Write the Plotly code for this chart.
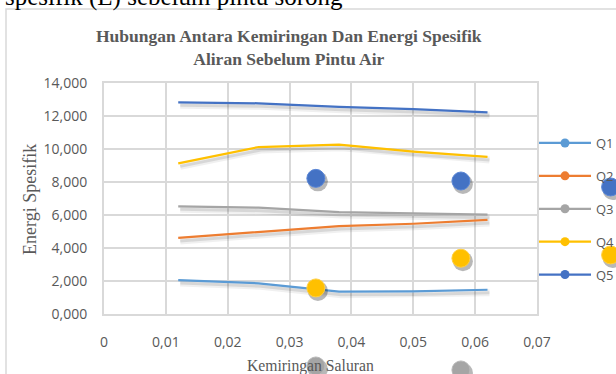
import plotly.graph_objects as go

# ---- data ----
kemiringan = [0.012, 0.025, 0.038, 0.05, 0.062]
q1 = [2.06, 1.86, 1.35, 1.37, 1.47]
q2 = [4.61, 4.95, 5.33, 5.47, 5.70]
q3 = [6.53, 6.44, 6.18, 6.08, 6.02]
q4 = [9.13, 10.12, 10.26, 9.84, 9.52]
q5 = [12.83, 12.77, 12.56, 12.42, 12.22]
series_names = ["Q1", "Q2", "Q3", "Q4", "Q5"]
series_values = [q1, q2, q3, q4, q5]
series_colors = ["#5B9BD5", "#ED7D31", "#A5A5A5", "#FFC000", "#4472C4"]

# stray marker points visible in the picture
stray_x = [0.03425, 0.0577, 0.0819]
stray_blue = [8.22, 8.06, 7.70]
stray_yellow = [1.58, 3.38, 3.58]
stray_gray = [-3.15, -3.39, -3.64]

W, H = 616, 374
PL, PR, PT, PB = 104, 537, 83, 314  # plot area pixels
XR = [0, 0.07]
YR = [0, 14]
kx = (XR[1] - XR[0]) / (PR - PL)  # data units per px
ky = (YR[1] - YR[0]) / (PB - PT)
# shadow offset (in px) -> data units
sx = 2 * kx
sy = 3 * ky
# full-paper axes with the same scale (for points outside the plot area)
X3R = [XR[0] - PL * kx, XR[0] + (W - PL) * kx]
Y3R = [YR[0] - (H - PB) * ky, YR[0] + PB * ky]

TXT = "#595959"
GRID = "#D9D9D9"

fig = go.Figure()

# line shadows on base axes (x, y)
for vals in series_values:
    fig.add_trace(go.Scatter(x=kemiringan, y=vals, mode="lines", xaxis="x", yaxis="y",
                             line=dict(color="rgba(0,0,0,0.06)", width=7), showlegend=False,
                             hoverinfo="skip"))
    fig.add_trace(go.Scatter(x=kemiringan, y=vals, mode="lines", xaxis="x", yaxis="y",
                             line=dict(color="rgba(0,0,0,0.10)", width=3), showlegend=False,
                             hoverinfo="skip"))

# real lines on overlay axes (x2, y2)
for name, vals, col in zip(series_names, series_values, series_colors):
    fig.add_trace(go.Scatter(x=kemiringan, y=vals, mode="lines", xaxis="x2", yaxis="y2",
                             line=dict(color=col, width=2.25), showlegend=False, name=name))

# stray markers on full-paper axes (x3, y3)
for sv in [stray_blue, stray_yellow, stray_gray]:
    fig.add_trace(go.Scatter(x=[v + sx for v in stray_x], y=[v - sy for v in sv],
                             mode="markers", xaxis="x3", yaxis="y3",
                             marker=dict(size=20, color="rgba(0,0,0,0.28)", line=dict(width=0)),
                             showlegend=False, cliponaxis=False, hoverinfo="skip"))
for sv, col, edge in [(stray_blue, "#4472C4", "#5A86D6"),
                      (stray_yellow, "#FFC000", "#FFCF40"),
                      (stray_gray, "#A5A5A5", "#B8B8B8")]:
    fig.add_trace(go.Scatter(x=stray_x, y=sv, mode="markers", xaxis="x3", yaxis="y3",
                             marker=dict(size=18, color=col, line=dict(width=1, color=edge)),
                             showlegend=False, cliponaxis=False))

# legend entries
for name, col in zip(series_names, series_colors):
    fig.add_trace(go.Scatter(x=[None], y=[None], mode="lines+markers", xaxis="x2", yaxis="y2",
                             name=name, legendgroup=name,
                             line=dict(color=col, width=2.25),
                             marker=dict(color=col, size=9)))

xd = [PL / W, PR / W]
yd = [1 - PB / H, 1 - PT / H]

fig.update_layout(
    width=W, height=H, autosize=False,
    margin=dict(l=0, r=0, t=0, b=0, autoexpand=False),
    paper_bgcolor="white", plot_bgcolor="rgba(0,0,0,0)",
    separators=",.",
    showlegend=True,
    xaxis=dict(domain=xd, range=[XR[0] - sx, XR[1] - sx], visible=False, fixedrange=True,
               automargin=False),
    yaxis=dict(domain=yd, range=[YR[0] + sy, YR[1] + sy], visible=False, fixedrange=True,
               automargin=False),
    xaxis2=dict(overlaying="x", side="bottom", range=XR, dtick=0.01, tick0=0,
                tickformat=".2~f", showgrid=True, gridcolor=GRID, gridwidth=2,
                showline=True, linecolor=GRID, linewidth=2, mirror=True, zeroline=False,
                ticks="outside", ticklen=0, ticklabelstandoff=14, automargin=False,
                tickfont=dict(family="Open Sans", size=14, color=TXT)),
    yaxis2=dict(overlaying="y", side="left", range=YR, dtick=2, tick0=0,
                tickformat=".3f", showgrid=True, gridcolor=GRID, gridwidth=2,
                showline=True, linecolor=GRID, linewidth=2, mirror=True, zeroline=False,
                ticks="outside", ticklen=0, ticklabelstandoff=12, automargin=False,
                tickfont=dict(family="Open Sans", size=14, color=TXT)),
    xaxis3=dict(domain=[0, 1], range=X3R, visible=False, fixedrange=True, automargin=False,
                anchor="y3"),
    yaxis3=dict(domain=[0, 1], range=Y3R, visible=False, fixedrange=True, automargin=False,
                anchor="x3"),
    legend=dict(x=534 / W, y=1 - 128 / H, xanchor="left", yanchor="top",
                bgcolor="rgba(0,0,0,0)", itemwidth=52, tracegroupgap=13,
                traceorder="grouped",
                font=dict(family="Open Sans", size=13, color=TXT)),
    shapes=[dict(type="rect", xref="paper", yref="paper",
                 x0=6 / W, x1=1.02, y0=-0.05, y1=1 - 9 / H,
                 line=dict(color=GRID, width=1.5), fillcolor="rgba(0,0,0,0)", layer="below")],
    annotations=[
        dict(text="spesifik (E) sebelum pintu sorong", xref="paper", yref="paper",
             x=3 / W, y=1 + 3.4 / H, xanchor="left", yanchor="middle", showarrow=False,
             font=dict(family="Liberation Serif", size=25, color="black")),
        dict(text="<b>Hubungan Antara Kemiringan Dan Energi Spesifik<br>Aliran Sebelum Pintu Air</b>",
             xref="paper", yref="paper", x=289 / W, y=1 - 47 / H, xanchor="center",
             yanchor="middle", showarrow=False, align="center",
             font=dict(family="Liberation Serif", size=17.5, color=TXT)),
        dict(text="Energi Spesifik", xref="paper", yref="paper", x=30 / W, y=1 - 200 / H,
             xanchor="center", yanchor="middle", textangle=-90, showarrow=False,
             font=dict(family="Liberation Serif", size=18, color=TXT)),
        dict(text="Kemiringan Saluran", xref="paper", yref="paper", x=310.5 / W, y=1 - 365.7 / H,
             xanchor="center", yanchor="middle", showarrow=False,
             font=dict(family="Liberation Serif", size=15.7, color=TXT)),
    ],
)

fig.write_html("out.html",
               config={"displayModeBar": False, "staticPlot": True},
               post_script="document.body.style.margin='0';"
                           "document.body.style.overflow='hidden';"
                           "document.documentElement.style.overflow='hidden';")
